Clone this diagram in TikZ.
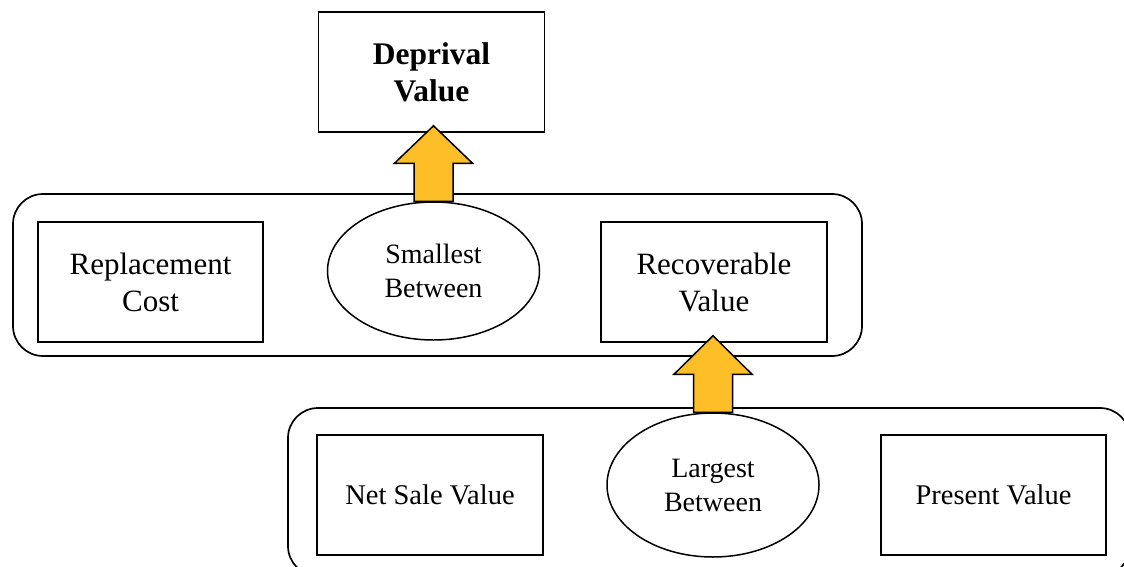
\documentclass[tikz,border=0pt]{standalone}
\usepackage{fontspec}
\setmainfont{Liberation Serif}
\usetikzlibrary{calc,shapes.geometric}
\definecolor{arrowgold}{RGB}{253,190,40}
\tikzset{
  groupbox/.style={draw, line width=1.7pt, rounded corners=30pt, inner sep=0pt},
  valbox/.style={draw, line width=1.5pt, minimum width=225pt, minimum height=120pt,
    inner sep=0pt, align=center, font=\fontsize{31}{37}\selectfont},
  lowbox/.style={valbox, font=\fontsize{28.5}{34}\selectfont},
  choice/.style={draw, ellipse, line width=1.5pt, inner sep=0pt, align=center,
    font=\fontsize{28}{34}\selectfont},
  fatarrow/.style={draw, fill=arrowgold, line width=1.5pt, line join=miter}
}
\begin{document}
\begin{tikzpicture}[x=1pt,y=-1pt]
  \useasboundingbox (0,0) rectangle (1124,566);
  \clip (0,0) rectangle (1124,566);
  % groups
  \node[groupbox, minimum width=849pt, minimum height=162pt] (upper) at (437.5,275) {};
  \node[groupbox, minimum width=842pt, minimum height=168pt] (lower) at (709,492) {};
  % top
  \node[valbox, minimum width=226pt, font=\bfseries\fontsize{31.5}{37}\selectfont] (dv) at (431.5,72) {Deprival\\Value};
  % first level
  \node[valbox] (rc) at (150.5,282) {Replacement\\Cost};
  \node[choice, minimum width=212pt, minimum height=138pt] (sb) at (433.5,271) {Smallest\\Between};
  \node[valbox, minimum width=226pt] (rv) at (714,282) {Recoverable\\Value};
  % second level
  \node[lowbox, minimum width=226pt] (ns) at (430,495) {Net Sale Value};
  \node[choice, minimum width=212pt, minimum height=144pt] (lb) at (713,485) {Largest\\Between};
  \node[lowbox] (pv) at (993.5,495) {Present Value};
  % arrows
  \draw[fatarrow] ($(sb.north)+(-19.5,0)$) -- ++(0,-38) -- ++(-19.5,0)
    -- ($(sb.north |- dv.south)+(0,-7)$) -- ($(sb.north)+(39,-38)$) -- ++(-19.5,0)
    -- ($(sb.north)+(19.5,0)$) -- cycle;
  \draw[fatarrow] ($(lb.north)+(-19.5,0)$) -- ++(0,-38) -- ++(-19.5,0)
    -- ($(lb.north |- rv.south)+(0,-7)$) -- ($(lb.north)+(39,-38)$) -- ++(-19.5,0)
    -- ($(lb.north)+(19.5,0)$) -- cycle;
\end{tikzpicture}
\end{document}
